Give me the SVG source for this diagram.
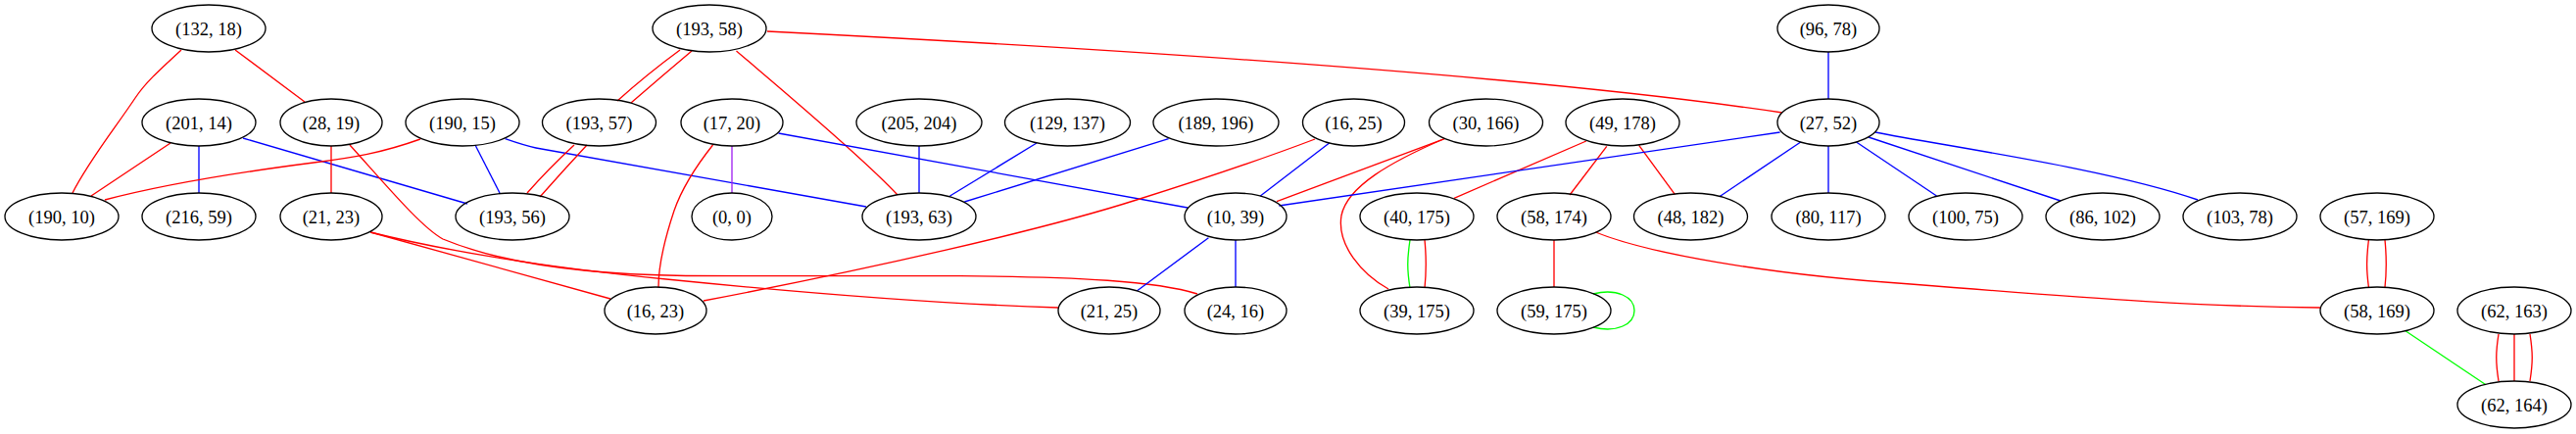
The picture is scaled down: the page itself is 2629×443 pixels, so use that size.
<svg xmlns="http://www.w3.org/2000/svg" width="2629" height="443" viewBox="0 0 2629 443">
<style>
.n ellipse{fill:none;stroke:#000;stroke-width:1.33}
.n text{font-family:"Liberation Serif","Times New Roman",serif;font-size:18.5px;text-anchor:middle;fill:#000}
#edges path{fill:none;stroke-width:1.33}
.r{stroke:#ff0000}.b{stroke:#0000ff}.g{stroke:#00ff00}.p{stroke:#a020f0}
</style>
<rect width="2629" height="443" fill="#fff"/>
<g id="edges">
<path class="r" d="M240,51 L311,104"/>
<path class="r" d="M185,51 C160,74 148,85 138,100 C118,130 90,165 74,197"/>
<path class="r" d="M174,146 L93,200"/>
<path class="b" d="M203,149 L203,197"/>
<path class="b" d="M248,141 L477,208"/>
<path class="r" d="M338,149 L338,197"/>
<path class="r" d="M357,148 C395,190 430,232 452,244 C500,264 580,280 700,281.5 L980,281.7 C1100,282.5 1180,287 1222,300"/>
<path class="r" d="M378,237 L623,305"/>
<path class="r" d="M378,237 C450,255 550,272 680,285 C800,297 950,310 1080,314"/>
<path class="r" d="M429,142 C390,156 360,161 320,166 C250,175 168,188 107,204"/>
<path class="b" d="M485,148 L510,197"/>
<path class="b" d="M515.6,141.7 C528,146 537,149 547,151 L884,211"/>
<path class="r" d="M694,51 Q660,76 630,103"/>
<path class="r" d="M706,52 Q674,79 644,105"/>
<path class="r" d="M586,148 Q560,172 538,197"/>
<path class="r" d="M599,148 Q574,175 551,201"/>
<path class="r" d="M751.5,52 C790,85 880,160 916,199"/>
<path class="r" d="M783,32 C1100,48 1550,75 1819,115"/>
<path class="p" d="M747,149 L747,197"/>
<path class="r" d="M727.5,148 C710,170 695,195 688,215 C678,245 672,270 672,293"/>
<path class="b" d="M794.5,136 L1212,212"/>
<path class="b" d="M938,149 L938,197"/>
<path class="b" d="M1058,146 L969.5,200"/>
<path class="b" d="M1192.6,141.7 L984.3,206"/>
<path class="r" d="M1342,142 C1300,158 1230,182 1160,204 C1060,236 880,276 718,307"/>
<path class="b" d="M1356.6,146 L1286.3,200"/>
<path class="r" d="M1474.4,141.7 L1303,205.7"/>
<path class="r" d="M1473,142 C1420,165 1375,190 1369,220 C1364,250 1390,280 1417,295"/>
<path class="r" d="M1618.8,144 L1484,202.3"/>
<path class="r" d="M1639.8,149.3 L1602,199"/>
<path class="r" d="M1672.7,148.3 L1709.3,198.3"/>
<path class="b" d="M1866,53 L1866,101"/>
<path class="b" d="M1816.6,135 L1305.3,210"/>
<path class="b" d="M1837.7,145 L1754.8,200.7"/>
<path class="b" d="M1866,149 L1866,197"/>
<path class="b" d="M1894.5,145 L1976.5,200"/>
<path class="b" d="M1907,140 L2103,205"/>
<path class="b" d="M1914,135 C1990,150 2150,172 2243,204"/>
<path class="b" d="M1233.4,242.7 L1160.6,296.7"/>
<path class="b" d="M1261,245 L1261,293"/>
<path class="g" d="M1439,245 C1436,265 1436,275 1439,294"/>
<path class="r" d="M1454,245 C1456,265 1456,275 1454,294"/>
<path class="r" d="M1586,245 L1586,293"/>
<path class="r" d="M1628.5,237 C1680,258 1800,280 1950,290 C2150,306 2250,313 2368,314"/>
<path class="g" d="M1626,300 C1650,294 1668,303 1668,317 C1668,331 1650,340 1626,334"/>
<path class="r" d="M2417.4,245 C2415,265 2415,275 2417.4,293"/>
<path class="r" d="M2434,245 C2436,265 2436,275 2434,293"/>
<path class="g" d="M2455,337.7 L2537,392.7"/>
<path class="r" d="M2550,341 C2547,360 2547,370 2550,389"/>
<path class="r" d="M2566,341 L2566,389"/>
<path class="r" d="M2582,341 C2585,360 2585,370 2582,389"/>
</g>
<g id="n132_18" class="n"><ellipse cx="213" cy="29" rx="58" ry="24"/><text x="213" y="35.5">(132, 18)</text></g>
<g id="n193_58" class="n"><ellipse cx="724" cy="29" rx="58" ry="24"/><text x="724" y="35.5">(193, 58)</text></g>
<g id="n96_78" class="n"><ellipse cx="1866" cy="29" rx="52" ry="24"/><text x="1866" y="35.5">(96, 78)</text></g>
<g id="n201_14" class="n"><ellipse cx="203" cy="125" rx="58" ry="24"/><text x="203" y="131.5">(201, 14)</text></g>
<g id="n28_19" class="n"><ellipse cx="338" cy="125" rx="52" ry="24"/><text x="338" y="131.5">(28, 19)</text></g>
<g id="n190_15" class="n"><ellipse cx="472" cy="125" rx="58" ry="24"/><text x="472" y="131.5">(190, 15)</text></g>
<g id="n193_57" class="n"><ellipse cx="611.5" cy="125" rx="58" ry="24"/><text x="611.5" y="131.5">(193, 57)</text></g>
<g id="n17_20" class="n"><ellipse cx="747" cy="125" rx="52" ry="24"/><text x="747" y="131.5">(17, 20)</text></g>
<g id="n205_204" class="n"><ellipse cx="938" cy="125" rx="64" ry="24"/><text x="938" y="131.5">(205, 204)</text></g>
<g id="n129_137" class="n"><ellipse cx="1089.5" cy="125" rx="64" ry="24"/><text x="1089.5" y="131.5">(129, 137)</text></g>
<g id="n189_196" class="n"><ellipse cx="1241" cy="125" rx="64" ry="24"/><text x="1241" y="131.5">(189, 196)</text></g>
<g id="n16_25" class="n"><ellipse cx="1381.5" cy="125" rx="52" ry="24"/><text x="1381.5" y="131.5">(16, 25)</text></g>
<g id="n30_166" class="n"><ellipse cx="1516.5" cy="125" rx="58" ry="24"/><text x="1516.5" y="131.5">(30, 166)</text></g>
<g id="n49_178" class="n"><ellipse cx="1656" cy="125" rx="58" ry="24"/><text x="1656" y="131.5">(49, 178)</text></g>
<g id="n27_52" class="n"><ellipse cx="1866" cy="125" rx="52" ry="24"/><text x="1866" y="131.5">(27, 52)</text></g>
<g id="n190_10" class="n"><ellipse cx="63" cy="221" rx="58" ry="24"/><text x="63" y="227.5">(190, 10)</text></g>
<g id="n216_59" class="n"><ellipse cx="203" cy="221" rx="58" ry="24"/><text x="203" y="227.5">(216, 59)</text></g>
<g id="n21_23" class="n"><ellipse cx="338" cy="221" rx="52" ry="24"/><text x="338" y="227.5">(21, 23)</text></g>
<g id="n193_56" class="n"><ellipse cx="523" cy="221" rx="58" ry="24"/><text x="523" y="227.5">(193, 56)</text></g>
<g id="n0_0" class="n"><ellipse cx="747" cy="221" rx="41" ry="24"/><text x="747" y="227.5">(0, 0)</text></g>
<g id="n193_63" class="n"><ellipse cx="938" cy="221" rx="58" ry="24"/><text x="938" y="227.5">(193, 63)</text></g>
<g id="n10_39" class="n"><ellipse cx="1261" cy="221" rx="52" ry="24"/><text x="1261" y="227.5">(10, 39)</text></g>
<g id="n40_175" class="n"><ellipse cx="1446" cy="221" rx="58" ry="24"/><text x="1446" y="227.5">(40, 175)</text></g>
<g id="n58_174" class="n"><ellipse cx="1586" cy="221" rx="58" ry="24"/><text x="1586" y="227.5">(58, 174)</text></g>
<g id="n48_182" class="n"><ellipse cx="1725.5" cy="221" rx="58" ry="24"/><text x="1725.5" y="227.5">(48, 182)</text></g>
<g id="n80_117" class="n"><ellipse cx="1866" cy="221" rx="58" ry="24"/><text x="1866" y="227.5">(80, 117)</text></g>
<g id="n100_75" class="n"><ellipse cx="2006" cy="221" rx="58" ry="24"/><text x="2006" y="227.5">(100, 75)</text></g>
<g id="n86_102" class="n"><ellipse cx="2146" cy="221" rx="58" ry="24"/><text x="2146" y="227.5">(86, 102)</text></g>
<g id="n103_78" class="n"><ellipse cx="2286" cy="221" rx="58" ry="24"/><text x="2286" y="227.5">(103, 78)</text></g>
<g id="n57_169" class="n"><ellipse cx="2426" cy="221" rx="58" ry="24"/><text x="2426" y="227.5">(57, 169)</text></g>
<g id="n16_23" class="n"><ellipse cx="669" cy="317" rx="52" ry="24"/><text x="669" y="323.5">(16, 23)</text></g>
<g id="n21_25" class="n"><ellipse cx="1132" cy="317" rx="52" ry="24"/><text x="1132" y="323.5">(21, 25)</text></g>
<g id="n24_16" class="n"><ellipse cx="1261" cy="317" rx="52" ry="24"/><text x="1261" y="323.5">(24, 16)</text></g>
<g id="n39_175" class="n"><ellipse cx="1446" cy="317" rx="58" ry="24"/><text x="1446" y="323.5">(39, 175)</text></g>
<g id="n59_175" class="n"><ellipse cx="1586" cy="317" rx="58" ry="24"/><text x="1586" y="323.5">(59, 175)</text></g>
<g id="n58_169" class="n"><ellipse cx="2426" cy="317" rx="58" ry="24"/><text x="2426" y="323.5">(58, 169)</text></g>
<g id="n62_163" class="n"><ellipse cx="2566" cy="317" rx="58" ry="24"/><text x="2566" y="323.5">(62, 163)</text></g>
<g id="n62_164" class="n"><ellipse cx="2566" cy="413" rx="58" ry="24"/><text x="2566" y="419.5">(62, 164)</text></g>
</svg>
